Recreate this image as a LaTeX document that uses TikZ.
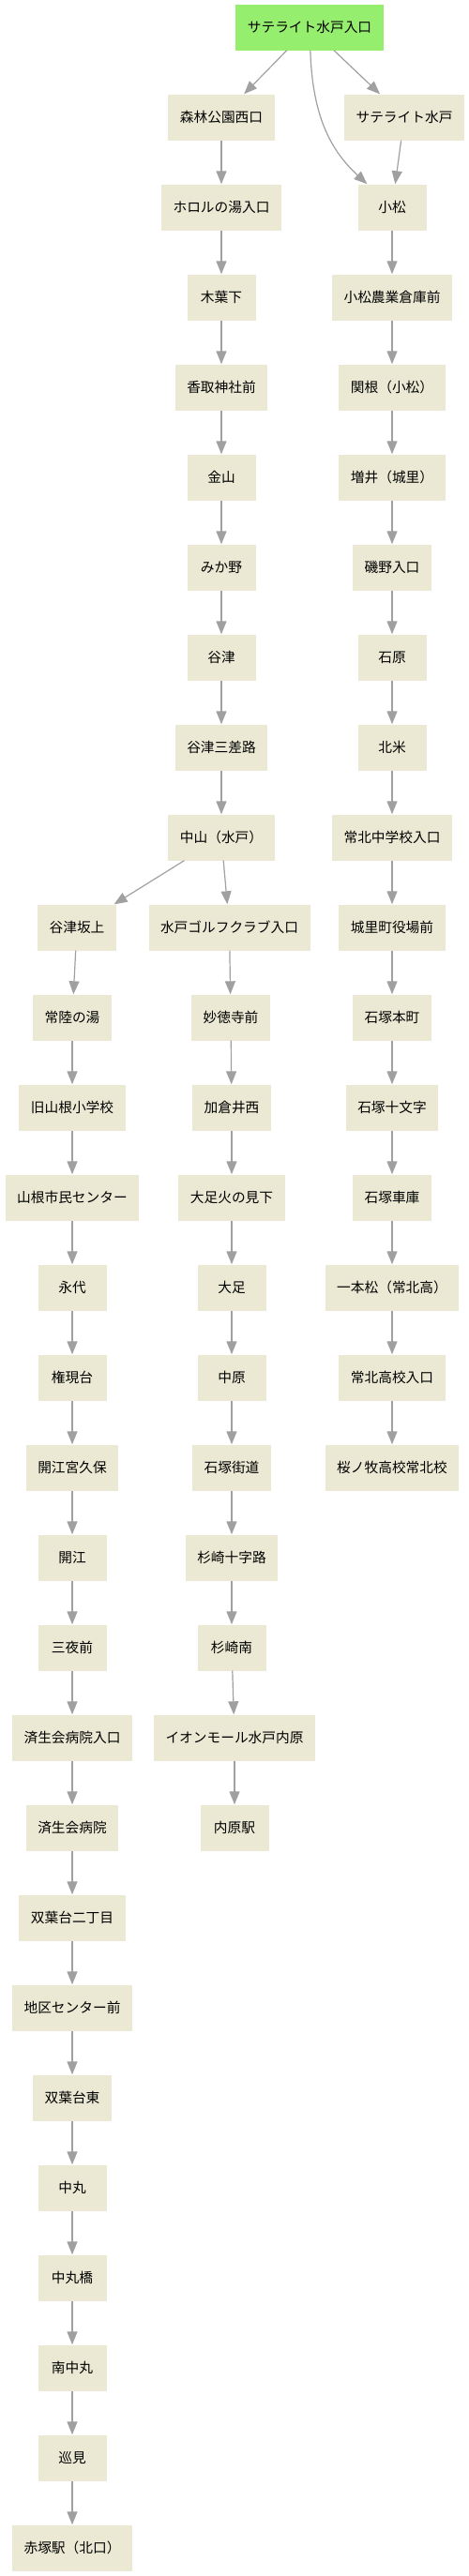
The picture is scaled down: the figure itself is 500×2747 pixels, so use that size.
\documentclass[tikz,border=0pt]{standalone}
\usepackage{fontspec}
\setmainfont{Noto Sans CJK JP}
\usetikzlibrary{arrows.meta}
\definecolor{stopfill}{RGB}{235,233,212}
\definecolor{startfill}{RGB}{150,238,110}
\definecolor{edgegray}{RGB}{160,160,160}
\begin{document}
\begin{tikzpicture}[x=1pt,y=-1pt,line join=round,>={Triangle[length=14pt,width=11pt]},
	stop/.style={fill=stopfill,minimum width=73pt,minimum height=49pt,inner xsep=12.5pt,inner ysep=0pt,font=\fontsize{14.7}{16}\selectfont},
	start/.style={stop,fill=startfill},
	edge/.style={->,draw=edgegray,line width=1.2pt}]
	\useasboundingbox (0,0) rectangle (500,2747);
	% start
	\node[start] (root) at (330,29) {サテライト水戸入口};
	% rows are 96pt apart
	\foreach \x/\r/\n/\t in {236/1/shinrin/森林公園西口, 236/2/hororu/ホロルの湯入口, 236/3/kobashita/木葉下,
		236/4/katori/香取神社前, 236/5/kanayama/金山, 236/6/mikano/みか野, 236/7/yatsu/谷津,
		236/8/yatsusansaro/谷津三差路, 236/9/nakayama/中山（水戸）}
	\node[stop] (\n) at (\x,{29+96*\r}) {\t};
	\foreach \x/\r/\n/\t in {431/1/satmito/サテライト水戸, 418/2/komatsu/小松, 418/3/komatsunogyo/小松農業倉庫前,
		418/4/sekine/関根（小松）, 418/5/masui/増井（城里）, 418/6/isono/磯野入口, 418/7/ishihara/石原,
		418/8/kitagome/北米, 418/9/johokuchu/常北中学校入口, 418/10/shirosato/城里町役場前,
		418/11/ishizukahoncho/石塚本町, 418/12/jumonji/石塚十文字, 418/13/shako/石塚車庫,
		418/14/ipponmatsu/一本松（常北高）, 418/15/johokuko/常北高校入口, 418/16/sakuranomaki/桜ノ牧高校常北校}
	\node[stop] (\n) at (\x,{29+96*\r}) {\t};
	\foreach \x/\r/\n/\t in {82/10/sakaue/谷津坂上, 77/11/hitachinoyu/常陸の湯, 77/12/kyuyamane/旧山根小学校,
		77/13/yamaneshimin/山根市民センター, 77/14/eidai/永代, 77/15/gongendai/権現台,
		77/16/miyakubo/開江宮久保, 77/17/kaire/開江, 77/18/sanyamae/三夜前,
		77/19/saiseiiri/済生会病院入口, 77/20/saisei/済生会病院, 77/21/futaba2/双葉台二丁目,
		77/22/chiku/地区センター前, 77/23/futabahigashi/双葉台東, 77/24/nakamaru/中丸,
		77/25/nakamarubashi/中丸橋, 77/26/minaminakamaru/南中丸, 77/27/megurimi/巡見, 77/28/akatsuka/赤塚駅（北口）}
	\node[stop] (\n) at (\x,{29+96*\r}) {\t};
	\foreach \x/\r/\n/\t in {244.5/10/golf/水戸ゴルフクラブ入口, 246/11/myotokuji/妙徳寺前, 247/12/kakurai/加倉井西,
		247/13/hinomi/大足火の見下, 247/14/oashi/大足, 247/15/nakahara/中原, 247/16/kaido/石塚街道,
		247/17/jujiro/杉崎十字路, 247/18/sugisakiminami/杉崎南, 250/19/aeon/イオンモール水戸内原, 250/20/uchihara/内原駅}
	\node[stop] (\n) at (\x,{29+96*\r}) {\t};
	% connections
	\draw[edge] (root) .. controls (333,120) and (350,158) .. (komatsu);
	\foreach \a/\b in {root/shinrin, root/satmito, satmito/komatsu,
		shinrin/hororu, hororu/kobashita, kobashita/katori, katori/kanayama, kanayama/mikano,
		mikano/yatsu, yatsu/yatsusansaro, yatsusansaro/nakayama, nakayama/sakaue, nakayama/golf,
		komatsu/komatsunogyo, komatsunogyo/sekine, sekine/masui, masui/isono, isono/ishihara,
		ishihara/kitagome, kitagome/johokuchu, johokuchu/shirosato, shirosato/ishizukahoncho,
		ishizukahoncho/jumonji, jumonji/shako, shako/ipponmatsu, ipponmatsu/johokuko, johokuko/sakuranomaki,
		sakaue/hitachinoyu, hitachinoyu/kyuyamane, kyuyamane/yamaneshimin, yamaneshimin/eidai,
		eidai/gongendai, gongendai/miyakubo, miyakubo/kaire, kaire/sanyamae, sanyamae/saiseiiri,
		saiseiiri/saisei, saisei/futaba2, futaba2/chiku, chiku/futabahigashi, futabahigashi/nakamaru,
		nakamaru/nakamarubashi, nakamarubashi/minaminakamaru, minaminakamaru/megurimi, megurimi/akatsuka,
		golf/myotokuji, myotokuji/kakurai, kakurai/hinomi, hinomi/oashi, oashi/nakahara,
		nakahara/kaido, kaido/jujiro, jujiro/sugisakiminami, sugisakiminami/aeon, aeon/uchihara}
	\draw[edge] (\a) -- (\b);
\end{tikzpicture}
\end{document}
